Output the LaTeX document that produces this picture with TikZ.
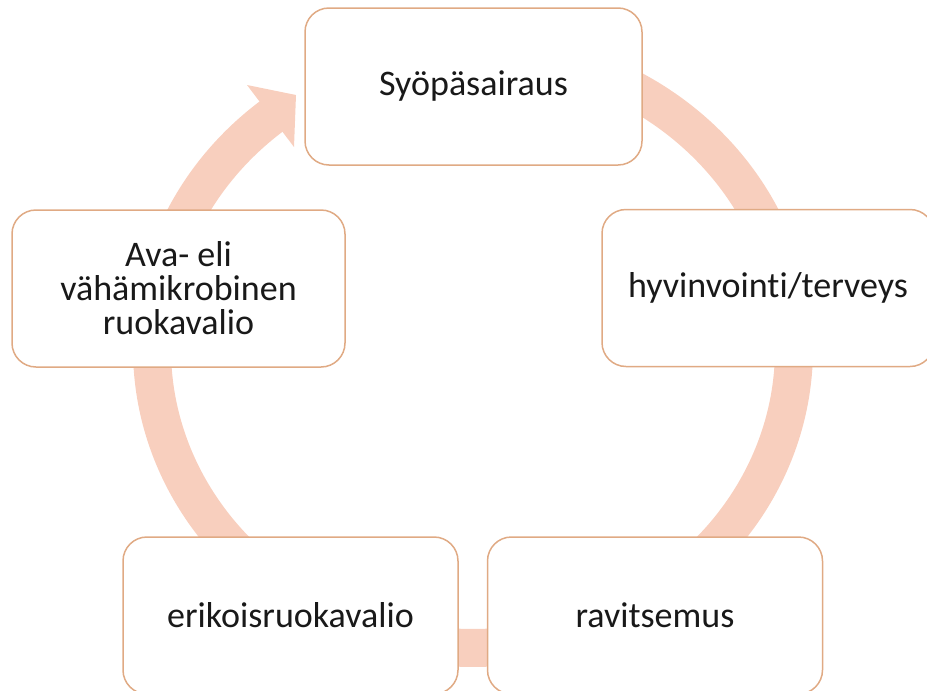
\documentclass[tikz,border=0pt]{standalone}
\usepackage{fontspec}
\setmainfont{Carlito}[Ligatures=NoCommon]
\definecolor{band}{RGB}{248,207,190}
\definecolor{edge}{RGB}{224,170,132}
\definecolor{txt}{RGB}{25,25,25}
\begin{document}
\begin{tikzpicture}[x=1pt,y=-1pt,
  stage/.style={draw=edge, line width=1.5pt, fill=white, rounded corners=24pt,
    minimum width=335pt, minimum height=157pt, inner sep=0pt, align=center,
    text=txt, font=\fontsize{36}{34}\selectfont},
  ring/.style={draw=band, line width=38pt, line join=round}]
\useasboundingbox (0,0) rectangle (927,691);
% circular arrow band
\draw[ring] plot[domain=-70:231.5, samples=300] ({473+321*cos(\x)},{349+299*sin(\x)});
% arrow head
\coordinate (ao) at (247,85);
\coordinate (ai) at (294,147);
\coordinate (tip) at (296,95);
\fill[band] (ao) -- (tip) -- (ai) -- cycle;
% stages
\node[stage, minimum width=337pt] (n1) at (473.5,86.5) {Syöpäsairaus};
\node[stage, minimum width=332pt] (n2) at (768,288) {hyvinvointi/terveys};
\node[stage] (n3) at (655,615.5) {ravitsemus};
\node[stage] (n4) at (290.5,615.5) {erikoisruokavalio};
\node[stage, minimum width=333pt] (n5) at (178.5,288.5) {Ava- eli\\vähämikrobinen\\ruokavalio};
\end{tikzpicture}
\end{document}
